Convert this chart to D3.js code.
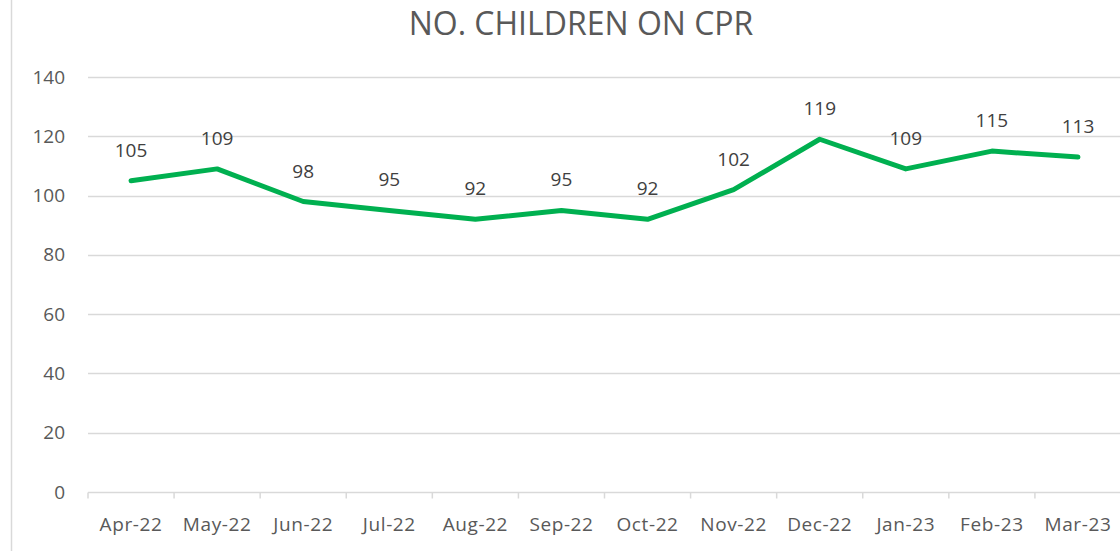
<!DOCTYPE html>
<html>
<head>
<meta charset="utf-8">
<script src="https://cdn.jsdelivr.net/npm/d3@7"></script>
<style>
  html, body { margin: 0; padding: 0; background: #fff; }
  svg { display: block; font-family: "Open Sans", "Noto Sans", sans-serif; }
</style>
</head>
<body>
<svg id="chart" width="1120" height="551"></svg>
<script>
// Monthly count of children on a child protection plan
const months = ["Apr-22", "May-22", "Jun-22", "Jul-22", "Aug-22", "Sep-22",
                "Oct-22", "Nov-22", "Dec-22", "Jan-23", "Feb-23", "Mar-23"];
const children = [105, 109, 98, 95, 92, 95, 92, 102, 119, 109, 115, 113];
const yTicks = [0, 20, 40, 60, 80, 100, 120, 140];
const chartTitle = "NO. CHILDREN ON CPR";

const svg = d3.select("#chart");
const W = 1120, H = 551;
const margin = { top: 77, right: -1, bottom: 59, left: 88 };

const x = d3.scaleBand()
  .domain(months)
  .range([margin.left, W - margin.right])
  .paddingInner(0).paddingOuter(0);

const y = d3.scaleLinear()
  .domain([0, 140])
  .range([H - margin.bottom, margin.top]);

const textColor = "#595959";
const gridColor = "#d9d9d9";

// chart-area border on the left
svg.append("line")
  .attr("x1", 11.5).attr("x2", 11.5)
  .attr("y1", 0).attr("y2", H)
  .attr("stroke", gridColor).attr("stroke-width", 1.5);

// title
svg.append("text")
  .attr("x", 581).attr("y", 35)
  .attr("text-anchor", "middle")
  .attr("fill", textColor)
  .attr("font-size", 32)
  .text(chartTitle);

// horizontal gridlines
svg.append("g")
  .selectAll("line")
  .data(yTicks.filter(d => d !== 0))
  .join("line")
  .attr("x1", margin.left).attr("x2", W)
  .attr("y1", d => Math.round(y(d)) + 0.5)
  .attr("y2", d => Math.round(y(d)) + 0.5)
  .attr("stroke", gridColor).attr("stroke-width", 1.5);

// y axis labels
const yAxis = d3.axisLeft(y).tickValues(yTicks).tickSize(0).tickPadding(0);
const gy = svg.append("g")
  .attr("transform", `translate(65,0)`)
  .call(yAxis);
gy.select(".domain").remove();
gy.selectAll("text")
  .attr("fill", textColor)
  .attr("font-size", 19)
  .attr("font-family", "Open Sans, sans-serif");

// x axis with tick marks at category boundaries
const baseY = Math.round(y(0)) + 0.5;
svg.append("line")
  .attr("x1", margin.left).attr("x2", W)
  .attr("y1", baseY).attr("y2", baseY)
  .attr("stroke", gridColor).attr("stroke-width", 1.5);

const bounds = months.map(m => x(m)).concat([x(months[months.length - 1]) + x.bandwidth()]);
svg.append("g")
  .selectAll("line")
  .data(bounds)
  .join("line")
  .attr("x1", d => d).attr("x2", d => d)
  .attr("y1", baseY).attr("y2", baseY + 6)
  .attr("stroke", gridColor).attr("stroke-width", 1.5);

svg.append("g")
  .selectAll("text")
  .data(months)
  .join("text")
  .attr("x", d => x(d) + x.bandwidth() / 2)
  .attr("y", baseY + 38)
  .attr("text-anchor", "middle")
  .attr("fill", textColor)
  .attr("font-size", 19)
  .attr("letter-spacing", 0.6)
  .text(d => d);

// series line
const cx = d => x(d) + x.bandwidth() / 2;
const line = d3.line()
  .x((d, i) => cx(months[i]))
  .y(d => y(d));

svg.append("path")
  .datum(children)
  .attr("d", line)
  .attr("fill", "none")
  .attr("stroke", "#00b050")
  .attr("stroke-width", 5)
  .attr("stroke-linejoin", "round")
  .attr("stroke-linecap", "round");

// data labels above each point
svg.append("g")
  .selectAll("text")
  .data(children)
  .join("text")
  .attr("x", (d, i) => cx(months[i]))
  .attr("y", d => y(d) - 24)
  .attr("text-anchor", "middle")
  .attr("fill", "#404040")
  .attr("font-size", 19)
  .text(d => d);
</script>
</body>
</html>
